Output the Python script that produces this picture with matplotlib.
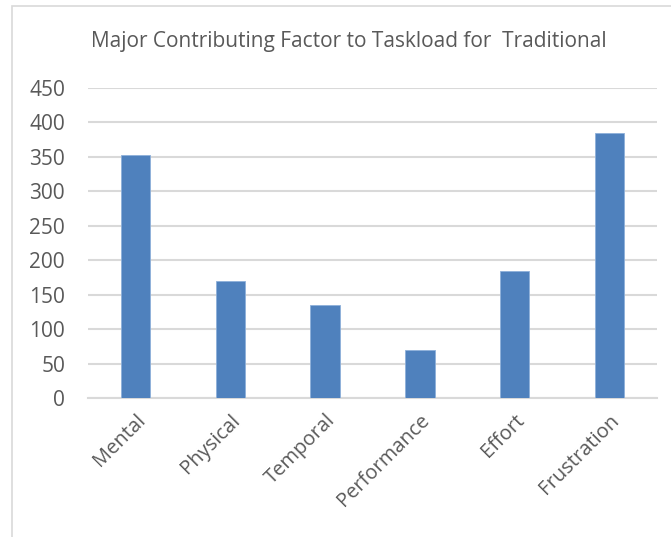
import matplotlib
matplotlib.use("Agg")
import matplotlib.pyplot as plt
from matplotlib.patches import Rectangle

categories = ["Mental", "Physical", "Temporal", "Performance", "Effort", "Frustration"]
values = [353, 170, 135, 69, 184, 385]
yticks = [0, 50, 100, 150, 200, 250, 300, 350, 400, 450]
title = "Major Contributing Factor to Taskload for  Traditional"

plt.rcParams['font.family'] = ['Open Sans', 'DejaVu Sans']
txt = '#595959'
W, H = 671, 537
fig = plt.figure(figsize=(W/100, H/100), dpi=100)
fig.patches.append(Rectangle((12/W, -0.1), 1.2, (1 - 6/H) + 0.1, transform=fig.transFigure,
                             fill=False, edgecolor='#d9d9d9', linewidth=1.2))
ax = fig.add_axes([88/W, 1 - 398/H, (657-88)/W, (398-88)/H])
x = list(range(len(categories)))
ax.bar(x, values, width=0.31, color='#4f81bd', edgecolor='#8eb0da', linewidth=0.6, zorder=3)
ax.set_xlim(-0.5, len(categories) - 0.5)
ax.set_ylim(0, 450)
ax.set_yticks(yticks)
ax.set_yticklabels([str(v) for v in yticks], fontsize=15, color=txt)
ax.set_xticks(x)
ax.set_xticklabels(categories, rotation=45, ha='right', rotation_mode='anchor', fontsize=14.5, color=txt)
ax.tick_params(axis='both', length=0)
ax.tick_params(axis='y', pad=16.5)
ax.tick_params(axis='x', pad=9)
ax.yaxis.grid(True, color='#d9d9d9', linewidth=1.5, zorder=0)
for s in ['left', 'right', 'top']:
    ax.spines[s].set_visible(False)
ax.spines['bottom'].set_color('#d9d9d9')
ax.spines['bottom'].set_linewidth(1.5)
fig.text(349/W, 1 - 47/H, title, ha='center', va='baseline', fontsize=15, color=txt)
fig.savefig("out.png", dpi=100, facecolor='white')
